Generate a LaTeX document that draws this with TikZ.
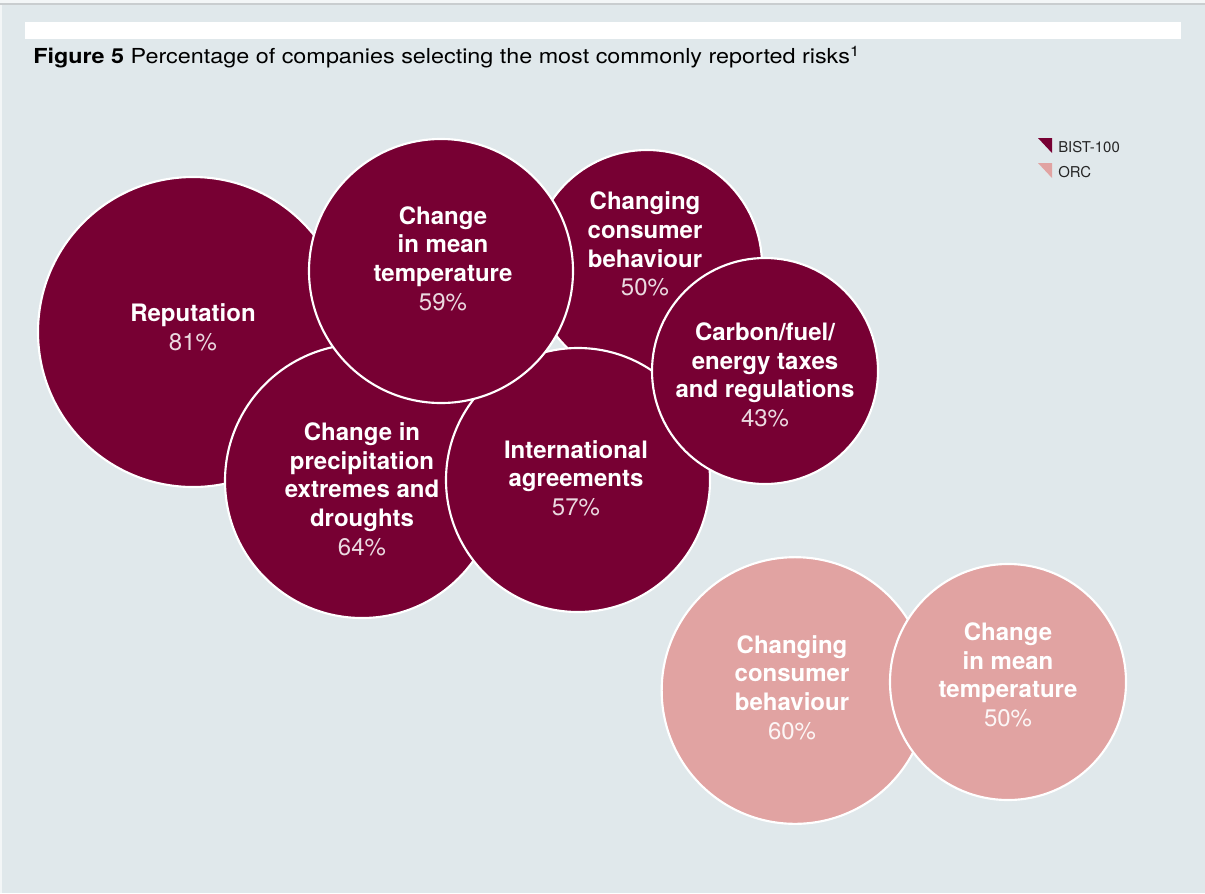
\documentclass[tikz,border=0pt]{standalone}
\usepackage{fontspec}
\setmainfont{TeX Gyre Heros}
\newfontfamily\titlefont[FakeStretch=1.13]{TeX Gyre Heros}
\definecolor{bgcol}{HTML}{E0E8EB}
\definecolor{maroon}{HTML}{770033}
\definecolor{rose}{HTML}{E1A3A2}
\definecolor{topline}{HTML}{C9CDCF}
\newcommand\pcd[1]{{\mdseries\color{white!85!maroon}#1}}
\newcommand\pcl[1]{{\mdseries\color{white!90!rose}#1}}
\tikzset{
  bub/.style={circle, draw=white, line width=1.6pt, inner sep=0pt},
  dark/.style={fill=maroon},
  light/.style={fill=rose},
  lbl/.style={text=white, align=center, inner sep=0pt, font=\fontsize{18}{21.5}\selectfont\bfseries},
  legtxt/.style={anchor=base west, inner sep=0pt, font=\fontsize{11.2}{13}\selectfont, text=black!85}
}
\begin{document}
\begin{tikzpicture}[x=0.75pt,y=-0.75pt]
\useasboundingbox (0,0) rectangle (1205,893);
\fill[bgcol] (0,0) rectangle (1205,893);
\fill[white!60!bgcol] (0,0) rectangle (1205,3);
\fill[topline] (0,3) rectangle (1205,4.5);
\fill[white!60!bgcol] (0,4.5) rectangle (1.5,893);
\fill[white] (25,22) rectangle (1181,39);
% title
\node[anchor=base west, inner sep=0pt, font=\titlefont\fontsize{15.5}{18}\selectfont] (title) at (33,63)
  {\textbf{Figure 5} Percentage of companies selecting the most commonly reported risks\textsuperscript{1}};
% legend
\fill[maroon] (1038,138) -- (1052,138) -- (1052,153) -- cycle;
\fill[rose] (1038,163) -- (1052,163) -- (1052,178) -- cycle;
\node[legtxt] (legb) at (1058,152) {BIST-100};
\node[legtxt] (lego) at (1058,177) {ORC};
% bubbles, back to front
\node[bub, dark, minimum size=232.5pt] (rep) at (193,332) {};
\node[bub, dark, minimum size=172.5pt] (cons) at (647,265) {};
\node[bub, dark, minimum size=205.5pt] (prec) at (362,481) {};
\node[bub, dark, minimum size=198pt] (intl) at (578,480) {};
\node[bub, dark, minimum size=169.5pt] (carb) at (765,371) {};
\node[bub, dark, minimum size=198pt] (temp) at (441,271) {};
\node[bub, light, minimum size=200pt] (ocons) at (795,690.5) {};
\node[bub, light, minimum size=177pt] (otemp) at (1008,682) {};
% labels
\node[lbl] (reptxt) at (193,327.5) {Reputation\\\pcd{81\%}};
\node[lbl] (temptxt) at (443,258.5) {Change\\in mean\\temperature\\\pcd{59\%}};
\node[lbl] (constxt) at (645,244) {Changing\\consumer\\behaviour\\\pcd{50\%}};
\node[lbl] (carbtxt) at (765,375) {Carbon/fuel/\\energy taxes\\and regulations\\\pcd{43\%}};
\node[lbl] (prectxt) at (362,489) {Change in\\precipitation\\extremes and\\droughts\\\pcd{64\%}};
\node[lbl] (intltxt) at (576,478) {International\\agreements\\\pcd{57\%}};
\node[lbl] (oconstxt) at (792,687.5) {Changing\\consumer\\behaviour\\\pcl{60\%}};
\node[lbl] (otemptxt) at (1008,675) {Change\\in mean\\temperature\\\pcl{50\%}};
\end{tikzpicture}
\end{document}
